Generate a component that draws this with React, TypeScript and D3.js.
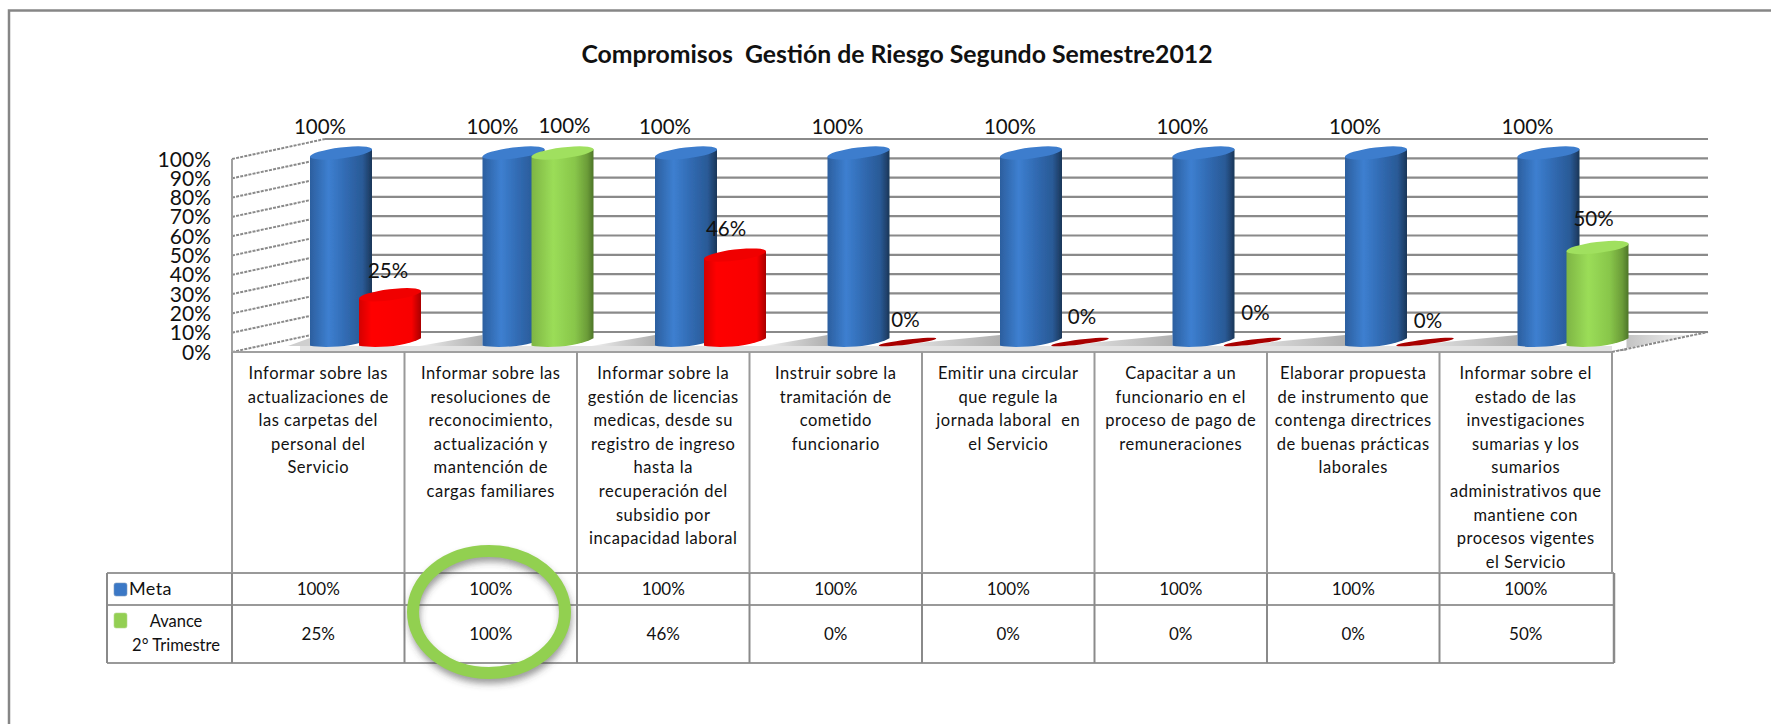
import React from "react";
import * as d3 from "d3";

const categories: string[][] = [
  ["Informar sobre las", "actualizaciones de", "las carpetas del", "personal del", "Servicio"],
  ["Informar sobre las", "resoluciones de", "reconocimiento,", "actualización y", "mantención de", "cargas familiares"],
  ["Informar sobre la", "gestión de licencias", "medicas, desde su", "registro de ingreso", "hasta la", "recuperación del", "subsidio por", "incapacidad laboral"],
  ["Instruir sobre la", "tramitación de", "cometido", "funcionario"],
  ["Emitir una circular", "que regule la", "jornada laboral  en", "el Servicio"],
  ["Capacitar a un", "funcionario en el", "proceso de pago de", "remuneraciones"],
  ["Elaborar propuesta", "de instrumento que", "contenga directrices", "de buenas prácticas", "laborales"],
  ["Informar sobre el", "estado de las", "investigaciones", "sumarias y los", "sumarios", "administrativos que", "mantiene con", "procesos vigentes", "el Servicio"],
];
const meta = [100, 100, 100, 100, 100, 100, 100, 100];
const avance = [25, 100, 46, 0, 0, 0, 0, 50];
const avanceColor = ["red", "green", "red", "red", "red", "red", "red", "green"];
const yTicks = [0, 10, 20, 30, 40, 50, 60, 70, 80, 90, 100];
const title = "Compromisos  Gestión de Riesgo Segundo Semestre2012";
const metaName = "Meta";
const avanceName = ["Avance", "2° Trimestre"];
// hand-placed label nudges relative to the bar head
const avanceNudge = [[-2, -24], [2, -27], [-9, -26], [-2, -22], [2, -25], [3, -29], [3, -21], [-4, -29]];

const FONT = "Lato, Carlito, Calibri, sans-serif";
const W = 1771, H = 724;
const x = d3.scaleBand<number>().domain(d3.range(8)).range([232, 1612]);
const front = d3.scaleLinear().domain([0, 100]).range([352, 159]);
const back = d3.scaleLinear().domain([0, 100]).range([332, 139]);
const bar = d3.scaleLinear().domain([0, 100]).range([342, 153]);
const RX = 31, RY = 5.5, TILT = -7;
const BLUE_OFF = 109, AV_OFF = 158;

function Cyl({ cx, v, fill, top }: { cx: number; v: number; fill: string; top: string }) {
  const y0 = bar(0), y1 = bar(v);
  const path = d3.path();
  const t = Math.tan((TILT * Math.PI) / 180) * RX;
  path.moveTo(cx - RX, y1 - t);
  path.lineTo(cx - RX, y0 - t);
  path.bezierCurveTo(cx - RX + 15, y0 - t + 2.5, cx + 15, y0 + 5, cx + RX, y0 + t);
  path.lineTo(cx + RX, y1 + t);
  path.closePath();
  return (
    <g filter="url(#soft)">
      <path d={path.toString()} fill={`url(#${fill})`} />
      <ellipse cx={cx} cy={y1} rx={RX + 0.3} ry={RY} fill={top} transform={`rotate(${TILT} ${cx} ${y1})`} />
    </g>
  );
}

function grad(id: string, stops: [number, string][]) {
  return (
    <linearGradient id={id} x1="0" x2="1" y1="0" y2="0" key={id}>
      {stops.map(([o, c]) => <stop key={o} offset={o} stopColor={c} />)}
    </linearGradient>
  );
}

export default function App() {
  const colX = (i: number) => x(i)!;
  const bw = x.bandwidth();
  const rows = [573, 605, 663];
  const barRight = (i: number) => colX(i) + (avance[i] > 0 ? AV_OFF + RX : BLUE_OFF + RX);
  const blueLeft = (i: number) => colX(i) + BLUE_OFF - RX;
  return (
    <svg width={W} height={H} style={{ position: "absolute", left: 0, top: 0, background: "#fff" }} fontFamily={FONT}>
      <defs>
        {grad("blue", [[0, "#2c5f9f"], [0.3, "#3d7fd0"], [0.6, "#3069b0"], [0.85, "#2a5a96"], [1, "#1b3658"]])}
        {grad("green", [[0, "#7eb544"], [0.35, "#9bdd58"], [0.7, "#88c64a"], [0.9, "#6b9c38"], [1, "#4e7528"]])}
        {grad("red", [[0, "#d40000"], [0.2, "#ff0000"], [0.85, "#f80000"], [1, "#a80000"]])}
        {grad("shadow", [[0, "#f0f0f0"], [0.45, "#d0d0d0"], [1, "#b0b0b0"]])}
        {grad("shadowR", [[0, "#b8b8b8"], [1, "#f4f4f4"]])}
        <filter id="soft" x="-5%" y="-5%" width="110%" height="110%"><feGaussianBlur stdDeviation="0.6" /></filter>
        <filter id="blur1" x="-1%" y="-300%" width="102%" height="700%"><feGaussianBlur stdDeviation="1.2" /></filter>
        <filter id="blur3" x="-20%" y="-20%" width="140%" height="140%"><feGaussianBlur stdDeviation="3.5" /></filter>
      </defs>

      {/* frame */}
      <path d={`M9 ${H}V10.5H${W}`} fill="none" stroke="#868686" strokeWidth={2.5} />

      <text x={897} y={63} textAnchor="middle" fontSize={24.8} fontWeight={700} fill="#111" xmlSpace="preserve">{title}</text>

      {/* back wall gridlines */}
      {yTicks.map((t) => (
        <g key={t}>
          <line x1={325} x2={1708} y1={back(t) + 2.5} y2={back(t) + 2.5} stroke="#b4b4b4" strokeWidth={4} filter="url(#blur1)" />
          <line x1={325} x2={1708} y1={back(t)} y2={back(t)} stroke="#8a8a8a" strokeWidth={2.2} />
          <line x1={232} x2={325} y1={front(t)} y2={back(t)} stroke="#8a8a8a" strokeWidth={2} strokeDasharray="3 1.2" />
        </g>
      ))}
      <line x1={232} x2={232} y1={front(100)} y2={front(0)} stroke="#a0a0a0" strokeWidth={2} />

      {/* floor shadows */}
      <rect x={300} y={346} width={1312} height={5} fill="#e2e2e2" />
      <polygon points={`${blueLeft(0) - 22},346 ${blueLeft(0)},338 ${blueLeft(0)},346`} fill="#cfcfcf" />
      {d3.range(7).map((i) => {
        const x0 = barRight(i), x1 = blueLeft(i + 1);
        return <polygon key={i} points={`${x0 - 2},346 ${x1},335 ${x1},346`} fill="url(#shadow)" />;
      })}
      <polygon points={`${barRight(7) - 2},335 1690,335 1612,351 ${barRight(7) - 2},351`} fill="url(#shadowR)" />

      {/* floor edges */}
      <line x1={1612} y1={front(0)} x2={1708} y2={back(0)} stroke="#8a8a8a" strokeWidth={2} strokeDasharray="3 1.2" />
      <line x1={232} x2={1612} y1={front(0) + 1.5} y2={front(0) + 1.5} stroke="#c4c4c4" strokeWidth={3} filter="url(#blur1)" />
      <line x1={232} x2={1612} y1={front(0)} y2={front(0)} stroke="#a0a0a0" strokeWidth={2} />

      {yTicks.map((t) => (
        <text key={t} x={211} y={front(t)} dy="0.36em" textAnchor="end" fontSize={21} fill="#111">{t}%</text>
      ))}

      {/* bars */}
      {d3.range(8).map((i) => (
        <g key={i}>
          <Cyl cx={colX(i) + BLUE_OFF} v={meta[i]} fill="blue" top="#3d7dcd" />
          {avance[i] > 0 ? (
            <Cyl cx={colX(i) + AV_OFF} v={avance[i]} fill={avanceColor[i]}
              top={avanceColor[i] === "green" ? "#a0e05e" : "#f00000"} />
          ) : (
            <ellipse cx={colX(i) + AV_OFF} cy={bar(0)} rx={RX - 2} ry={2.4} fill="#a80000"
              transform={`rotate(${TILT} ${colX(i) + AV_OFF} ${bar(0)})`} />
          )}
        </g>
      ))}

      {/* data labels */}
      {meta.map((v, i) => (
        <text key={i} x={colX(i) + BLUE_OFF - 21} y={127} dy="0.36em" textAnchor="middle" fontSize={20.5} fill="#111">{v}%</text>
      ))}
      {avance.map((v, i) => (
        <text key={i} x={colX(i) + AV_OFF + avanceNudge[i][0]} y={bar(v) + avanceNudge[i][1]} dy="0.36em" textAnchor="middle" fontSize={20.5} fill="#111">{v}%</text>
      ))}

      {/* category table */}
      {d3.range(9).map((i) => {
        const cx = i < 8 ? colX(i) : 1612;
        return <line key={i} x1={cx} x2={cx} y1={352} y2={rows[0]} stroke="#999" strokeWidth={2} />;
      })}
      {categories.map((lines, i) =>
        lines.map((l, j) => (
          <text key={j} x={colX(i) + bw / 2} y={373 + j * 23.6} dy="0.36em" textAnchor="middle" fontSize={16.5} letterSpacing={0.55} fill="#111" xmlSpace="preserve">{l}</text>
        ))
      )}

      {/* data table */}
      {rows.map((r) => <line key={r} x1={107} x2={1614} y1={r} y2={r} stroke="#999" strokeWidth={2} />)}
      {[107, ...d3.range(8).map(colX), 1614].map((cx, i) => (
        <line key={i} x1={cx} x2={cx} y1={rows[0]} y2={rows[2]} stroke="#8a8a8a" strokeWidth={i === 9 ? 2.5 : 2} />
      ))}
      {meta.map((v, i) => (
        <text key={i} x={colX(i) + bw / 2} y={589} dy="0.36em" textAnchor="middle" fontSize={17} fill="#111">{v}%</text>
      ))}
      {avance.map((v, i) => (
        <text key={i} x={colX(i) + bw / 2} y={634} dy="0.36em" textAnchor="middle" fontSize={17} fill="#111">{v}%</text>
      ))}
      <rect x={114} y={583} width={13} height={13} rx={2} fill="#3a78c6" stroke="#7f9cc0" strokeWidth={0.6} filter="url(#soft)" />
      <text x={129} y={589} dy="0.36em" fontSize={18} letterSpacing={0.4} fill="#111">{metaName}</text>
      <rect x={114} y={613} width={13} height={15} rx={2} fill="#93cf52" stroke="#b6d890" strokeWidth={0.6} filter="url(#soft)" />
      {avanceName.map((l, j) => (
        <text key={j} x={176} y={621 + j * 24} dy="0.36em" textAnchor="middle" fontSize={16.5} fill="#111">{l}</text>
      ))}

      {/* highlight ring */}
      <ellipse cx={490} cy={617} rx={76} ry={61} fill="none" stroke="#444" strokeOpacity={0.55} strokeWidth={11} filter="url(#blur3)" />
      <ellipse cx={489} cy={612} rx={76} ry={61} fill="none" stroke="#92d050" strokeWidth={12} />
    </svg>
  );
}
